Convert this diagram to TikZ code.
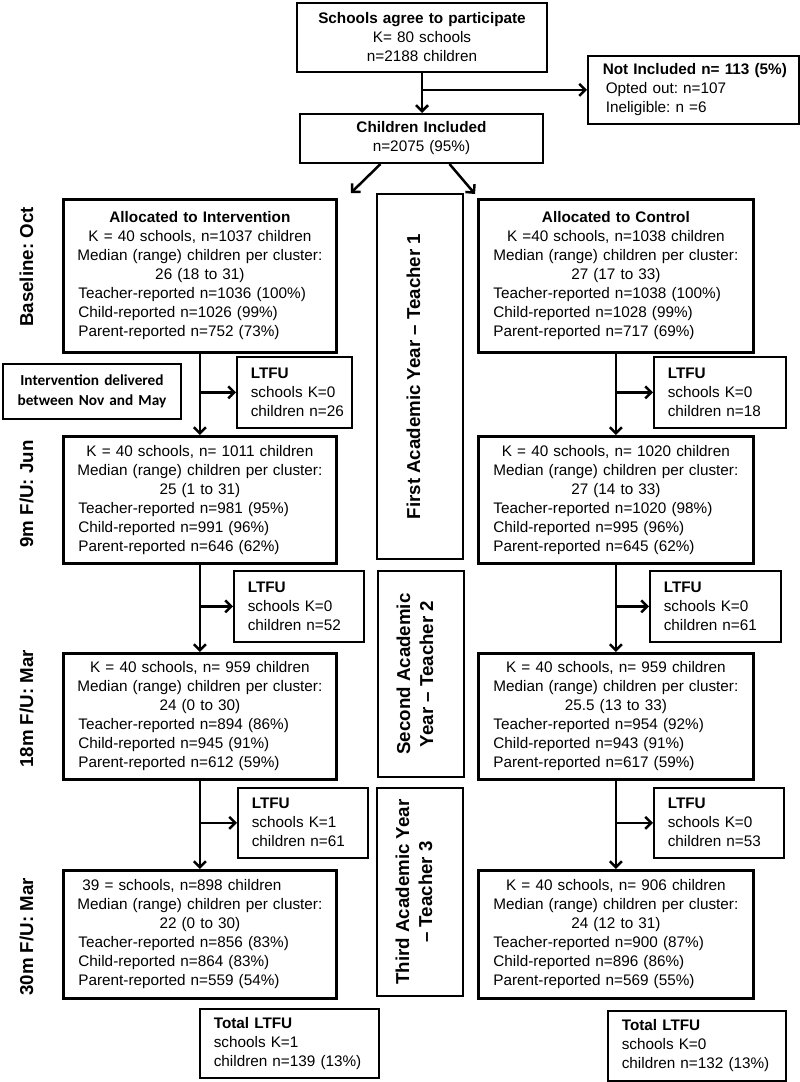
\documentclass[tikz,border=0pt]{standalone}
\usepackage{fontspec}
\setmainfont{Liberation Sans}
\newfontfamily\calfont{Carlito}
\usetikzlibrary{arrows.meta}
\frenchspacing
\newcommand\bodyfont{\fontsize{15.3}{19}\selectfont\frenchspacing}
\newcommand\labfont{\fontsize{18.7}{23}\selectfont\bfseries\frenchspacing}
\newcommand\calbfont{\fontsize{15.3}{20}\selectfont\calfont\bfseries}
\newcommand\mbtext[2]{{\centering #1\par}{\leftskip=11pt\rightskip=0pt plus 1fil #2\par}}
\newcommand\ltext[1]{{\leftskip=10pt\rightskip=0pt plus 1fil #1\par}}
\begin{document}
\begin{tikzpicture}[x=1pt,y=-1pt,
  mainbox/.style={draw, line width=2.8pt, anchor=north west, inner xsep=4pt, inner ysep=0pt, font=\bodyfont},
  ltfubox/.style={draw, line width=1.6pt, anchor=north west, inner xsep=4pt, inner ysep=0pt, font=\bodyfont},
  topbox/.style={draw, line width=2pt, anchor=north west, inner xsep=4pt, inner ysep=0pt, font=\bodyfont, align=center},
  notebox/.style={draw, line width=2pt, anchor=north west, inner xsep=4pt, inner ysep=0pt, font=\calbfont, align=center},
  yearbox/.style={draw, line width=1.6pt, rotate=90, inner sep=0pt, font=\labfont, align=center},
  phase/.style={rotate=90, anchor=base, inner sep=0pt, font=\labfont},
  arr/.style={line width=2.5pt, -{Straight Barb[length=6pt,width=12pt]}}]
\useasboundingbox (0,0) rectangle (800,1082);
\fill[white] (0,0) rectangle (800,1082);

% top part
\node[topbox, text width=242pt, minimum height=69pt] (top) at (296,2)
  {\textbf{Schools agree to participate}\\K= 80 schools\\n=2188 children};
\node[ltfubox, text width=203pt, minimum height=68pt] (notinc) at (587,55)
  {{\leftskip=11pt\rightskip=0pt plus 1fil \textbf{Not Included n= 113 (5\%)}\\\hspace*{3pt}Opted out: n=107\\\hspace*{3pt}Ineligible: n =6\par}};
\node[topbox, text width=235pt, minimum height=49pt] (incl) at (299,113)
  {\textbf{Children Included}\\n=2075 (95\%)};

% baseline
\node[mainbox, text width=265pt, minimum height=153pt] (int0) at (62,198)
  {\mbtext{\textbf{Allocated to Intervention}\\K = 40 schools, n=1037 children\\Median (range) children per cluster:\\26 (18 to 31)}
  {Teacher-reported n=1036 (100\%)\\Child-reported n=1026 (99\%)\\Parent-reported n=752 (73\%)}};
\node[mainbox, text width=267pt, minimum height=153pt] (ctl0) at (477,198)
  {\mbtext{\textbf{Allocated to Control}\\K =40 schools, n=1038 children\\Median (range) children per cluster:\\27 (17 to 33)}
  {Teacher-reported n=1038 (100\%)\\Child-reported n=1028 (99\%)\\Parent-reported n=717 (69\%)}};

% LTFU 1
\node[notebox, text width=170pt, minimum height=55pt] (idel) at (2,363)
  {Intervention delivered\\between Nov and May};
\node[ltfubox, text width=107pt, minimum height=71pt] (l1) at (236,356)
  {\ltext{\textbf{LTFU}\\schools K=0\\children n=26}};
\node[ltfubox, text width=124pt, minimum height=71pt] (l1c) at (653,356)
  {\ltext{\textbf{LTFU}\\schools K=0\\children n=18}};

% 9m
\node[mainbox, text width=265pt, minimum height=127pt] (int9) at (62,435)
  {\mbtext{K = 40 schools, n= 1011 children\\Median (range) children per cluster:\\25 (1 to 31)}
  {Teacher-reported n=981 (95\%)\\Child-reported n=991 (96\%)\\Parent-reported n=646 (62\%)}};
\node[mainbox, text width=267pt, minimum height=127pt] (ctl9) at (477,435)
  {\mbtext{K = 40 schools, n= 1020 children\\Median (range) children per cluster:\\27 (14 to 33)}
  {Teacher-reported n=1020 (98\%)\\Child-reported n=995 (96\%)\\Parent-reported n=645 (62\%)}};

% LTFU 2
\node[ltfubox, text width=122pt, minimum height=71pt] (l2) at (233,570)
  {\ltext{\textbf{LTFU}\\schools K=0\\children n=52}};
\node[ltfubox, text width=123pt, minimum height=71pt] (l2c) at (649,570)
  {\ltext{\textbf{LTFU}\\schools K=0\\children n=61}};

% 18m
\node[mainbox, text width=265pt, minimum height=126pt] (int18) at (62,652)
  {\mbtext{K = 40 schools, n= 959 children\\Median (range) children per cluster:\\24 (0 to 30)}
  {Teacher-reported n=894 (86\%)\\Child-reported n=945 (91\%)\\Parent-reported n=612 (59\%)}};
\node[mainbox, text width=267pt, minimum height=126pt] (ctl18) at (477,652)
  {\mbtext{K = 40 schools, n= 959 children\\Median (range) children per cluster:\\25.5 (13 to 33)}
  {Teacher-reported n=954 (92\%)\\Child-reported n=943 (91\%)\\Parent-reported n=617 (59\%)}};

% LTFU 3
\node[ltfubox, text width=122pt, minimum height=70pt] (l3) at (237,787)
  {\ltext{\textbf{LTFU}\\schools K=1\\children n=61}};
\node[ltfubox, text width=122pt, minimum height=70pt] (l3c) at (653,787)
  {\ltext{\textbf{LTFU}\\schools K=0\\children n=53}};

% 30m
\node[mainbox, text width=265pt, minimum height=128pt] (int30) at (62,869)
  {{\leftskip=15pt\rightskip=0pt plus 1fil 39 = schools, n=898 children\par}\mbtext{Median (range) children per cluster:\\22 (0 to 30)}
  {Teacher-reported n=856 (83\%)\\Child-reported n=864 (83\%)\\Parent-reported n=559 (54\%)}};
\node[mainbox, text width=267pt, minimum height=128pt] (ctl30) at (477,869)
  {\mbtext{K = 40 schools, n= 906 children\\Median (range) children per cluster:\\24 (12 to 31)}
  {Teacher-reported n=900 (87\%)\\Child-reported n=896 (86\%)\\Parent-reported n=569 (55\%)}};

% totals
\node[ltfubox, text width=171pt, minimum height=69pt] (tot) at (199,1008)
  {\ltext{\textbf{Total LTFU}\\schools K=1\\children n=139 (13\%)}};
\node[ltfubox, text width=170pt, minimum height=70pt] (totc) at (607,1010)
  {\ltext{\textbf{Total LTFU}\\schools K=0\\children n=132 (13\%)}};

% academic year boxes
\node[yearbox, minimum width=365pt, minimum height=86pt, text depth=13.5pt] (y1) at (420,376.5)
  {First Academic Year – Teacher 1};
\node[yearbox, minimum width=206pt, minimum height=86pt, text depth=12.5pt] (y2) at (421,674)
  {Second Academic\\Year – Teacher 2};
\node[yearbox, minimum width=208pt, minimum height=86pt, text depth=12.5pt] (y3) at (420,892)
  {Third Academic Year\\– Teacher 3};

% phase labels
\node[phase] (p0) at (33,267) {Baseline: Oct};
\node[phase] (p9) at (33,494) {9m F/U: Jun};
\node[phase] (p18) at (33,709) {18m F/U: Mar};
\node[phase] (p30) at (33,937) {30m F/U: Mar};

% connectors
\draw[arr] (top.south) -- (top.south |- incl.north);
\draw[arr] (top.south |- notinc.west) -- (notinc.west);
\draw[arr] ([xshift=-41pt]incl.south) -- ([xshift=13pt,yshift=5pt]int0.north east);
\draw[arr] ([xshift=28pt]incl.south) -- ([xshift=-2pt,yshift=4pt]ctl0.north west);

\draw[arr] (int0.south) -- (int9.north);
\draw[arr] (int0.south |- l1.west) -- (l1.west);
\draw[arr] (ctl0.south) -- (ctl9.north);
\draw[arr] (ctl0.south |- l1c.west) -- (l1c.west);

\draw[arr] (int9.south) -- (int18.north);
\draw[arr] (int9.south |- l2.west) -- (l2.west);
\draw[arr] (ctl9.south) -- (ctl18.north);
\draw[arr] (ctl9.south |- l2c.west) -- (l2c.west);

\draw[arr] (int18.south) -- (int30.north);
\draw[arr] (int18.south |- l3.west) -- (l3.west);
\draw[arr] (ctl18.south) -- (ctl30.north);
\draw[arr] (ctl18.south |- l3c.west) -- (l3c.west);
\end{tikzpicture}
\end{document}
